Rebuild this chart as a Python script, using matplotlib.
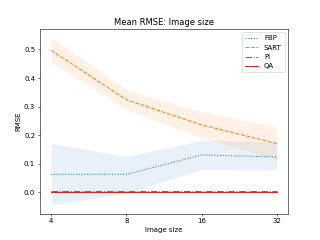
import matplotlib
matplotlib.use("Agg")
import matplotlib.pyplot as plt
from matplotlib.ticker import FixedLocator, NullLocator, FixedFormatter

sizes = [4, 8, 16, 32]
size_labels = ["4", "8", "16", "32"]

fbp_mean = [0.063, 0.063, 0.131, 0.124]
fbp_low = [-0.045, -0.003, 0.080, 0.078]
fbp_high = [0.171, 0.126, 0.182, 0.176]

sart_mean = [0.497, 0.324, 0.236, 0.171]
sart_low = [0.455, 0.290, 0.190, 0.116]
sart_high = [0.543, 0.358, 0.282, 0.229]

pi_mean = [0.005, 0.005, 0.005, 0.005]
pi_low = [0.004, 0.004, 0.004, 0.004]
pi_high = [0.006, 0.006, 0.006, 0.006]

qa_mean = [0.0, 0.0, 0.0, 0.0]

fig, ax = plt.subplots(figsize=(6.4, 4.8), dpi=50)

series = [
    ("FBP", fbp_mean, fbp_low, fbp_high, "tab:blue", ":"),
    ("SART", sart_mean, sart_low, sart_high, "tab:orange", "--"),
    ("PI", pi_mean, pi_low, pi_high, "tab:green", "-."),
    ("QA", qa_mean, qa_mean, qa_mean, "tab:red", "-"),
]
for name, m, lo, hi, c, ls in series:
    ax.plot(sizes, m, linestyle=ls, color=c, label=name, linewidth=1.5)
    ax.fill_between(sizes, lo, hi, color=c, alpha=0.1, linewidth=0)

ax.set_xscale("log", base=2)
ax.xaxis.set_major_locator(FixedLocator(sizes))
ax.xaxis.set_major_formatter(FixedFormatter(size_labels))
ax.xaxis.set_minor_locator(NullLocator())

ax.set_title("Mean RMSE: Image size")
ax.set_xlabel("Image size")
ax.set_ylabel("RMSE")
ax.legend(loc="upper right")

fig.savefig("out.png", dpi=50)
